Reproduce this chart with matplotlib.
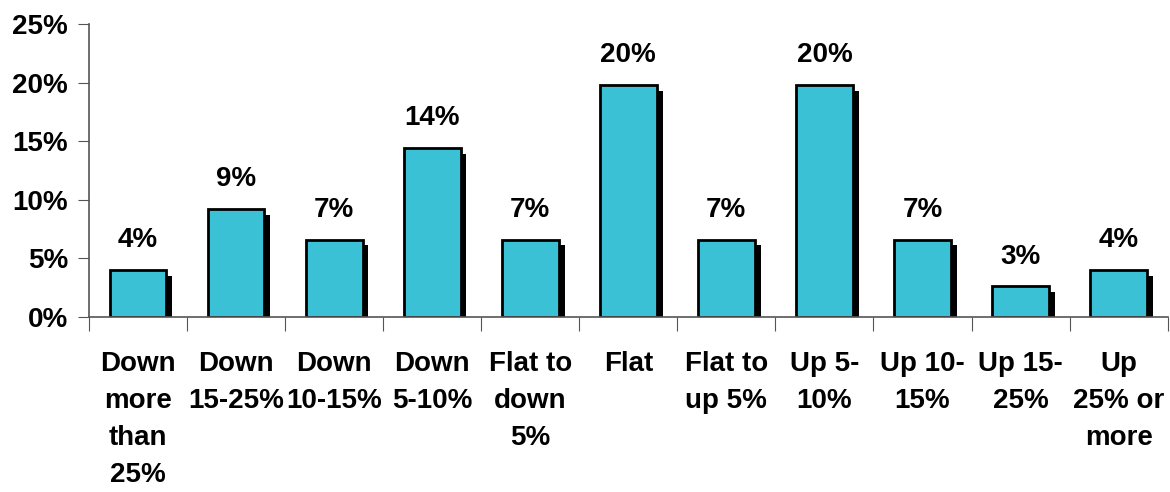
import matplotlib.pyplot as plt
import numpy as np

plt.rcParams['font.family'] = ['Liberation Sans', 'DejaVu Sans']
plt.rcParams['font.weight'] = 'bold'

categories = ['Down\nmore\nthan\n25%', 'Down\n15-25%', 'Down\n10-15%', 'Down\n5-10%',
              'Flat to\ndown\n5%', 'Flat', 'Flat to\nup 5%', 'Up 5-\n10%',
              'Up 10-\n15%', 'Up 15-\n25%', 'Up\n25% or\nmore']
values = [4.0, 9.2, 6.6, 14.4, 6.6, 19.8, 6.6, 19.8, 6.6, 2.6, 4.0]
labels = ['4%', '9%', '7%', '14%', '7%', '20%', '7%', '20%', '7%', '3%', '4%']

fig = plt.figure(figsize=(11.7, 4.92), dpi=100)
ax = fig.add_axes([0.076, 0.356, 0.922, 0.595])

x = np.arange(len(values))
w = 0.58
# shadow
dx = 0.06
dy = 0.5
ax.bar(x + dx, np.array(values) - dy, width=w, color='black', zorder=1)
ax.bar(x, values, width=w, color='#3AC1D6', edgecolor='black', linewidth=2, zorder=2)

for xi, v, lab in zip(x, values, labels):
    ax.text(xi, v + 1.95, lab, ha='center', va='baseline', fontsize=20, fontweight='bold')

ax.set_xlim(-0.5, len(values) - 0.5)
ax.set_ylim(0, 25)
ax.set_yticks([0, 5, 10, 15, 20, 25])
ax.set_yticklabels(['0%', '5%', '10%', '15%', '20%', '25%'], fontsize=20, fontweight='bold')
ax.set_xticks(np.arange(len(values) + 1) - 0.5)
ax.set_xticklabels([])
ax.tick_params(axis='x', direction='out', length=10, color='#555555')
ax.tick_params(axis='y', direction='out', length=8, color='#555555', pad=7)
for xi, c in zip(x, categories):
    ax.text(xi, -2.9, c, ha='center', va='top', fontsize=20, fontweight='bold',
            linespacing=1.55)

ax.spines['top'].set_visible(False)
ax.spines['right'].set_visible(False)
ax.spines['left'].set_color('#555555')
ax.spines['bottom'].set_color('#555555')
ax.spines['left'].set_linewidth(1.2)
ax.spines['bottom'].set_linewidth(1.2)

fig.savefig('out.png', dpi=100)
